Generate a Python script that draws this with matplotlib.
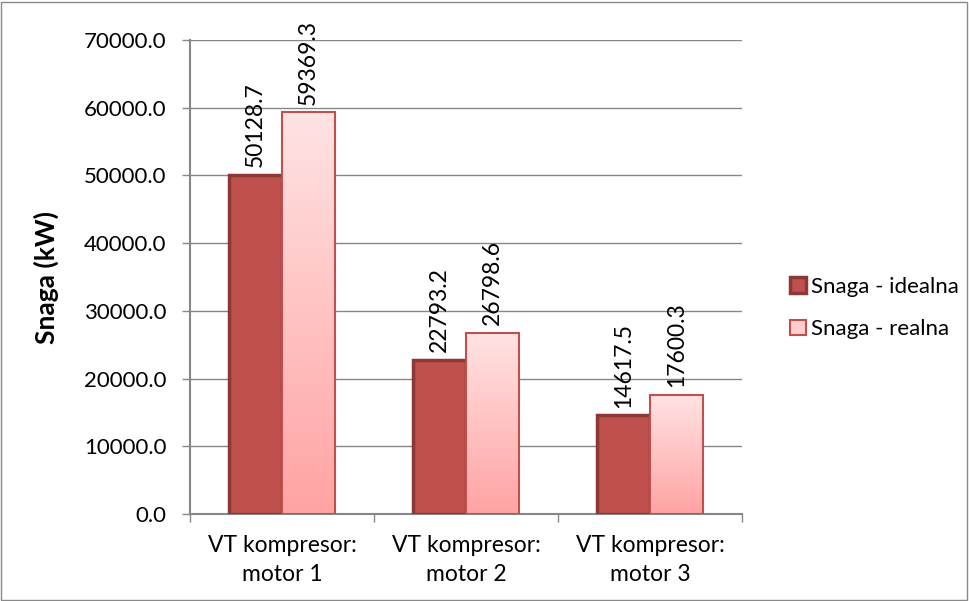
import matplotlib
matplotlib.use("Agg")
import matplotlib.pyplot as plt
import numpy as np
from matplotlib.patches import Rectangle, Patch
from matplotlib.colors import LinearSegmentedColormap

categories = ["VT kompresor:\nmotor 1", "VT kompresor:\nmotor 2", "VT kompresor:\nmotor 3"]
idealna = [50128.7, 22793.2, 14617.5]
realna = [59369.3, 26798.6, 17600.3]
series_names = ["Snaga - idealna", "Snaga - realna"]
yticks = [0, 10000, 20000, 30000, 40000, 50000, 60000, 70000]

plt.rcParams['font.family'] = ['Lato', 'DejaVu Sans']

fig = plt.figure(figsize=(9.69, 6.01), dpi=100)
ax = fig.add_axes([190/969, 87/601, 552/969, 474/601])

x = np.arange(len(categories))
w = 0.29
grid_c = "#868686"

ax.set_xlim(-0.5, len(categories) - 0.5)
ax.set_ylim(0, 70000)
ax.set_yticks(yticks)
ax.set_yticklabels([f"{v:.1f}" for v in yticks], fontsize=16)
ax.yaxis.grid(True, color=grid_c, linewidth=1)
ax.set_axisbelow(True)

ax.set_xticks(x)
ax.set_xticklabels(categories, fontsize=16.5, linespacing=1.5)
ax.set_xticks(np.arange(-0.5, len(categories)), minor=True)
ax.tick_params(axis='x', which='major', length=0, pad=15)
ax.tick_params(axis='x', which='minor', length=6, color=grid_c, width=1)
ax.tick_params(axis='y', length=6, color=grid_c, width=1, pad=11)

for s in ['top', 'right']:
    ax.spines[s].set_visible(False)
for s in ['left', 'bottom']:
    ax.spines[s].set_color(grid_c)
    ax.spines[s].set_linewidth(1.5)

b1 = ax.bar(x - w/2, idealna, w, color="#C0504D", edgecolor="#8C3836", linewidth=2.5, zorder=3)
b2 = ax.bar(x + w/2, realna, w, color="none", edgecolor="#C0504D", linewidth=1.5, zorder=4)

grad = np.linspace(0, 1, 256).reshape(-1, 1)
cmap = LinearSegmentedColormap.from_list("pinkgrad", ["#FFA3A3", "#FFE3E3"])
for bar in b2:
    x0 = bar.get_x(); h = bar.get_height(); bw = bar.get_width()
    im = ax.imshow(grad, cmap=cmap, aspect='auto', origin='lower',
                   extent=[x0, x0 + bw, 0, h], zorder=3)
    im.set_clip_path(bar)

for xi, v in zip(x - w/2, idealna):
    ax.text(xi, v + 1100, f"{v:.1f}", rotation=90, ha='center', va='bottom', fontsize=16.5)
for xi, v in zip(x + w/2, realna):
    ax.text(xi, v + 1100, f"{v:.1f}", rotation=90, ha='center', va='bottom', fontsize=16.5)

ax.set_ylabel("Snaga (kW)", fontsize=19, fontweight='bold', labelpad=18)

handles = [Patch(facecolor="#C0504D", edgecolor="#8C3836", linewidth=2.5),
           Patch(facecolor="#FFCFCF", edgecolor="#C0504D", linewidth=1.5)]
fig.legend(handles, series_names, loc='center left', bbox_to_anchor=(770/969, 1 - 308/601),
           frameon=False, fontsize=16, handlelength=0.7, handleheight=0.7,
           handletextpad=0.25, labelspacing=1.0)

ax.set_xlim(-0.5, len(categories) - 0.5)
ax.set_ylim(0, 70000)

fig.patches.append(Rectangle((1/969, 1/601), 966/969, 598/601, transform=fig.transFigure,
                             fill=False, edgecolor="#898989", linewidth=1))

fig.savefig("out.png", dpi=100)
